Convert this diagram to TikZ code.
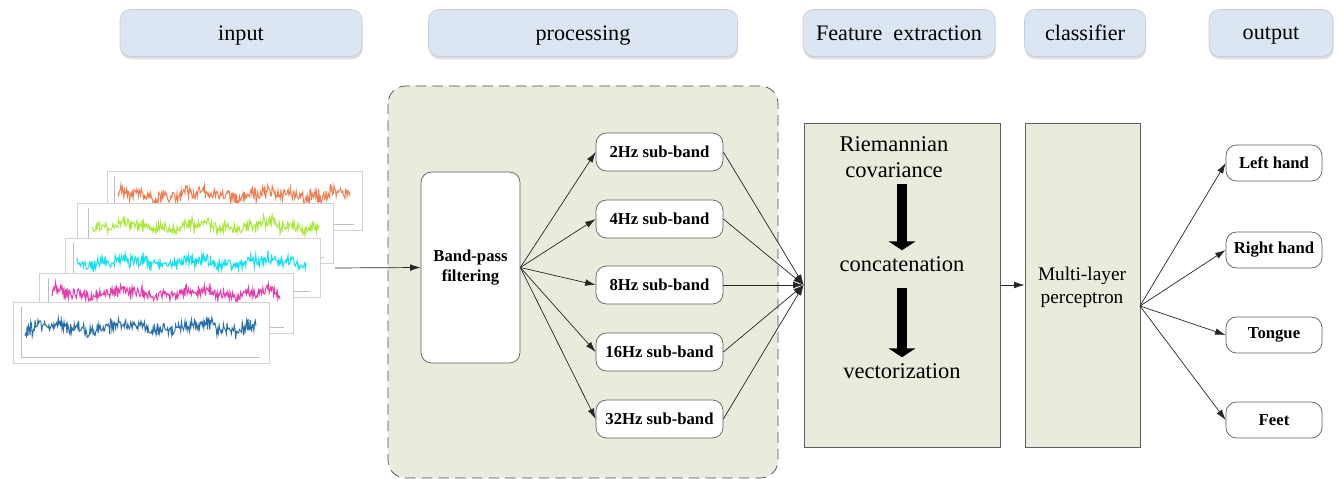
\documentclass[tikz,border=0pt]{standalone}
\usepackage{fontspec}
\setmainfont{Liberation Serif}
\usetikzlibrary{arrows.meta,shadows}

\definecolor{headfill}{RGB}{220,230,242}
\definecolor{headline}{RGB}{196,206,220}
\definecolor{stagefill}{RGB}{232,236,221}
\definecolor{boxline}{RGB}{95,95,95}
\definecolor{sigorange}{RGB}{240,125,80}
\definecolor{siggreen}{RGB}{170,232,60}
\definecolor{sigcyan}{RGB}{20,225,240}
\definecolor{sigpink}{RGB}{230,60,170}
\definecolor{sigblue}{RGB}{40,110,170}

\tikzset{
  head/.style={draw=headline, fill=headfill, rounded corners=6pt, minimum height=0.94cm,
    drop shadow={opacity=0.25, shadow xshift=0.4pt, shadow yshift=-1.6pt},
    text depth=0pt, font=\fontsize{12.6}{14}\selectfont},
  stage/.style={draw=boxline, fill=stagefill, minimum height=6.48cm},
  band/.style={draw=boxline, fill=white, rounded corners=6pt, font=\fontsize{9.5}{11}\selectfont\bfseries},
  link/.style={-{Latex[length=6pt,width=3.8pt]}, black!85},
  bigarrow/.style={line width=5.5pt, -{Triangle[width=15pt,length=5pt]}},
  bigtext/.style={font=\fontsize{12.8}{15}\selectfont, align=center}
}

\begin{document}
\begin{tikzpicture}[x=0.02cm, y=-0.02cm]
\useasboundingbox (0,0) rectangle (1341,479);

% stage titles
\node[head, minimum width=4.84cm] (hin)   at (241,33)  {input};
\node[head, minimum width=6.18cm] (hproc) at (583,33)  {processing};
\node[head, minimum width=3.84cm] (hfeat) at (899,33)  {Feature\ \ extraction};
\node[head, minimum width=2.42cm] (hcls)  at (1085,33) {classifier};
\node[head, minimum width=2.48cm] (hout)  at (1271,33) {output};

% raw signal windows, back to front
\pgfmathsetseed{11}
\foreach \l/\t/\r/\b/\xa/\xb/\m/\a/\col in {
107/171/362/230/118/350/195/19/sigorange,%
77/203/333/263/92/320/226/17/siggreen,%
65/238/320/297/77/306/262/17/sigcyan,%
39/273/293/333/52/280/293/16/sigpink,%
13/302/269/363/25/256/327/19/sigblue%
}{
	\draw[gray!35, fill=white] (\l,\t) rectangle (\r,\b);
	\draw[gray!50, line width=0.2pt] (\xa-4,\t+5) -- (\xa-4,\b-6) -- (\xb+4,\b-6);
	\draw[\col, line width=0.55pt] plot[domain=\xa:\xb, samples=320] (\x, {\m + \a*(0.15*sin(\x*5) + 0.1*sin(\x*17) + 0.3*rand + 0.45*rand*rand*rand)});
}
\coordinate (sig) at (335,268);

% filter bank
\draw[black!70, fill=stagefill, dash pattern=on 6pt off 3.5pt, rounded corners=10pt] (388,86) rectangle (778,478);
\node[band, minimum width=1.98cm, minimum height=3.82cm, align=center] (bp) at (470.5,267.5) {Band-pass\\filtering};
\draw[link] (sig) -- (bp.west);

\foreach \i/\y/\f in {1/152/2, 2/219/4, 3/285/8, 4/352/16, 5/419/32}
	\node[band, minimum width=2.54cm, minimum height=0.76cm] (sb\i) at (659.5,\y) {\f Hz sub-band};

% feature extraction and classifier
\node[stage, minimum width=3.92cm] (feat) at (902,285) {};
\node[stage, minimum width=2.3cm] (mlp) at (1082.5,285) {};

\foreach \i in {1,...,5}{
	\draw[link] (bp.east) -- (sb\i.west);
	\draw[link] (sb\i.east) -- (feat.west);
}

\node[bigtext] (riem) at (894,157) {Riemannian\\covariance};
\node[bigtext] (concat) at (902,264) {concatenation};
\node[bigtext] (vect) at (902,371) {vectorization};
\draw[bigarrow] (riem.south -| concat.north) -- (concat.north);
\draw[bigarrow, shorten <=6pt] (concat.south) -- (vect.north);

\node[font=\fontsize{11}{13}\selectfont, align=center] (mlptext) at (1082,287) {Multi-layer\\perceptron};
\draw[link] (feat.east) -- (mlp.west);

% classes
\coordinate (fan) at (1140,306);
\foreach \i/\y/\t in {1/163/Left hand, 2/250/Right hand, 3/335/Tongue, 4/420/Feet}{
	\node[band, minimum width=1.92cm, minimum height=0.72cm] (o\i) at (1274,\y) {\t};
	\draw[link] (fan) -- (o\i.west);
}
\end{tikzpicture}
\end{document}
